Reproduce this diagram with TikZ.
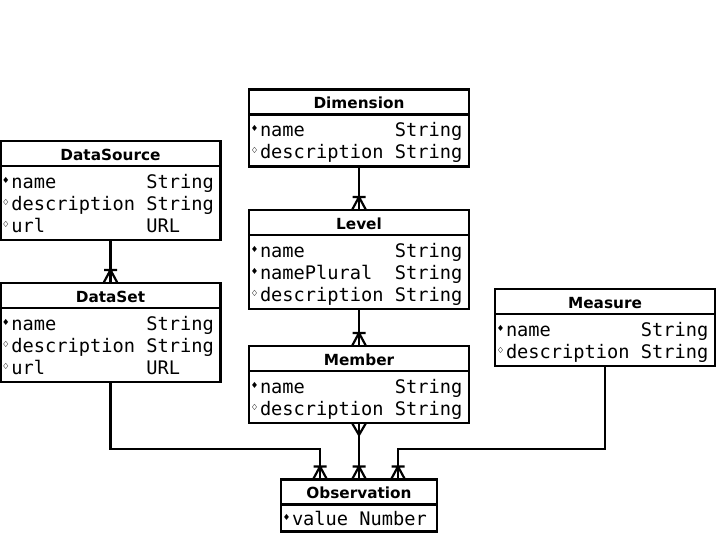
\documentclass[tikz,border=0pt]{standalone}
\usepackage{fontspec}
\setmainfont{DejaVu Sans}
\newfontfamily\monof{DejaVu Sans Mono}
\newfontfamily\symf{DejaVu Sans}
\newcommand\rowstrut{\rule[-4.5pt]{0pt}{22pt}}
\newcommand\firststrut{\rule[-4.5pt]{0pt}{24pt}}
\newcommand\pkmark{\makebox[9pt][l]{\hspace{1pt}\raisebox{6.3pt}{\scalebox{0.8}[1]{\symf\fontsize{8}{8}\selectfont ◆}}}}
\newcommand\opmark{\makebox[9pt][l]{\hspace{1pt}\raisebox{6.3pt}{\scalebox{0.8}[1]{\symf\fontsize{8}{8}\selectfont ◇}}}}
\newcommand\attr[3]{\rowstrut#1\makebox[7.224em][l]{#2}#3}
\newcommand\attrs[3]{\rowstrut#1\makebox[3.612em][l]{#2}#3}
\begin{document}
\begin{tikzpicture}[x=1pt,y=-1pt,
  every node/.style={outer sep=0pt},
  ln/.style={line width=2.2pt},
  classtitle/.style={draw, ln, minimum width=#1, minimum height=25pt, inner sep=0pt,
     anchor=north, font=\bfseries\fontsize{15.3}{17}\selectfont, text height=14pt, text depth=0pt},
  classbody/.style={draw, ln, minimum width=#1, text width=#1-4pt, inner xsep=2pt, inner ysep=3pt,
     anchor=north, align=left, font=\monof\fontsize{18.67}{22}\selectfont},
  onemany/.pic={\draw[line width=2.2pt] (-7pt,0pt) -- (0pt,13pt) -- (7pt,0pt) (-6.5pt,13pt) -- (6.5pt,13pt);},
  manydown/.pic={\draw[line width=2.2pt] (-7pt,0pt) -- (0pt,-12pt) -- (7pt,0pt);}
]
\useasboundingbox (0,0) rectangle (716,534);

% Dimension
\node[classtitle=220pt] (dimT) at (359,89.5) {Dimension};
\node[classbody=220pt] (dimB) at (dimT.south) {\firststrut\attr{\pkmark}{name}{String}\\\attr{\opmark}{description}{String}};

% DataSource
\node[classtitle=220pt] (dsT) at (110.5,141) {DataSource};
\node[classbody=220pt] (dsB) at (dsT.south) {\firststrut\attr{\pkmark}{name}{String}\\\attr{\opmark}{description}{String}\\\attr{\opmark}{url}{URL}};

% Level
\node[classtitle=220pt] (lvlT) at (359,210) {Level};
\node[classbody=220pt] (lvlB) at (lvlT.south) {\firststrut\attr{\pkmark}{name}{String}\\\attr{\pkmark}{namePlural}{String}\\\attr{\opmark}{description}{String}};

% DataSet
\node[classtitle=220pt] (dsetT) at (110.5,283) {DataSet};
\node[classbody=220pt] (dsetB) at (dsetT.south) {\firststrut\attr{\pkmark}{name}{String}\\\attr{\opmark}{description}{String}\\\attr{\opmark}{url}{URL}};

% Measure
\node[classtitle=220pt] (measT) at (605,289) {Measure};
\node[classbody=220pt] (measB) at (measT.south) {\firststrut\attr{\pkmark}{name}{String}\\\attr{\opmark}{description}{String}};

% Member
\node[classtitle=220pt] (memT) at (359,346) {Member};
\node[classbody=220pt] (memB) at (memT.south) {\firststrut\attr{\pkmark}{name}{String}\\\attr{\opmark}{description}{String}};

% Observation
\node[classtitle=156pt] (obsT) at (359,479.5) {Observation};
\node[classbody=156pt, inner ysep=1.5pt] (obsB) at (obsT.south) {\firststrut\attrs{\pkmark}{value}{Number}};

% connector helpers
\coordinate (bus) at (0,449);
\coordinate (o1) at ([xshift=-39pt]obsT.north);
\coordinate (o3) at ([xshift=39pt]obsT.north);

% connectors
\draw[ln] (dsB.south) -- (dsetT.north);
\pic at (dsetT.north) {onemany};
\draw[ln] (dimB.south) -- (lvlT.north);
\pic at (lvlT.north) {onemany};
\draw[ln] (lvlB.south) -- (memT.north);
\pic at (memT.north) {onemany};
\draw[ln] (dsetB.south) -- (dsetB.south |- bus) -- (o1 |- bus) -- (o1);
\pic at (o1) {onemany};
\draw[ln] (memB.south) -- (obsT.north);
\pic at (memB.south) {manydown};
\pic at (obsT.north) {onemany};
\draw[ln] (measB.south) -- (measB.south |- bus) -- (o3 |- bus) -- (o3);
\pic at (o3) {onemany};
\end{tikzpicture}
\end{document}
